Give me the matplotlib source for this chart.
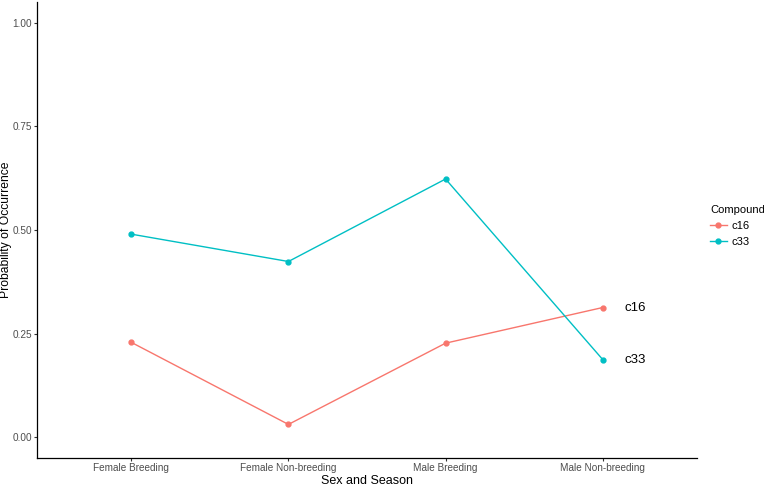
import matplotlib
matplotlib.use("Agg")
import matplotlib.pyplot as plt

# data
groups = ["Female Breeding", "Female Non-breeding", "Male Breeding", "Male Non-breeding"]
c16 = [0.229, 0.031, 0.227, 0.313]
c33 = [0.490, 0.424, 0.623, 0.1875]
compounds = ["c16", "c33"]
colors = ["#F8766D", "#00BFC4"]

plt.rcParams["font.family"] = ["Liberation Sans", "DejaVu Sans"]

fig = plt.figure(figsize=(7.64, 4.87), dpi=100)
ax = fig.add_axes([37 / 764, 29 / 487, 660 / 764, 456 / 487])

x = list(range(1, len(groups) + 1))
for name, vals, col in zip(compounds, [c16, c33], colors):
    ax.plot(x, vals, color=col, lw=1.0, marker="o", ms=3.5, label=name)
    # end-of-line label
    ax.text(x[-1] + 0.14, vals[-1], name, fontsize=9.5, color="black",
            va="center", ha="left")

ax.set_xlim(0.4, 4.6)
ax.set_ylim(-0.05, 1.05)
ax.set_xticks(x)
ax.set_xticklabels(groups)
ax.set_yticks([0, 0.25, 0.5, 0.75, 1.0])
ax.set_yticklabels(["0.00", "0.25", "0.50", "0.75", "1.00"])
ax.tick_params(axis="both", labelsize=7.2, colors="#333333", length=2.2, width=0.8,
               labelcolor="#4D4D4D", pad=1.5)
for s in ["top", "right"]:
    ax.spines[s].set_visible(False)
for s in ["left", "bottom"]:
    ax.spines[s].set_color("black")
    ax.spines[s].set_linewidth(0.9)

ax.set_xlabel("Sex and Season", fontsize=9, labelpad=1)
ax.set_ylabel("Probability of Occurrence", fontsize=8.7)
ax.yaxis.set_label_coords(-25 / 660, 0.5)

leg = ax.legend(title="Compound", loc="upper left",
                bbox_to_anchor=(710 / 764, (487 - 205) / 487),
                bbox_transform=fig.transFigure, frameon=False, fontsize=8,
                title_fontsize=8, handlelength=1.5, handletextpad=0.4,
                labelspacing=0.55, borderaxespad=0, borderpad=0)
leg._legend_box.align = "left"

fig.savefig("out.png", dpi=100)
